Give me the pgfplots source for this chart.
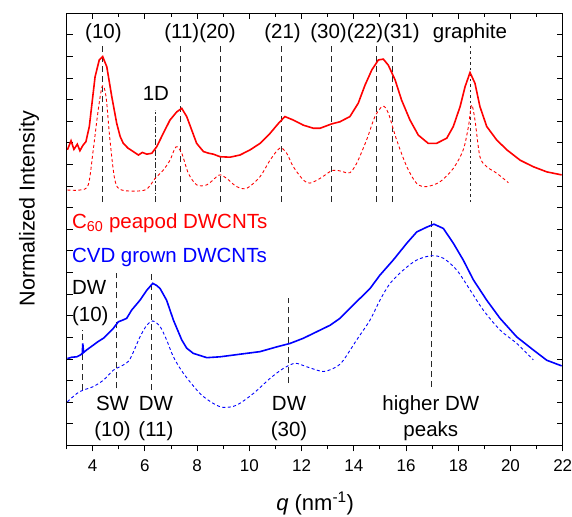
\documentclass[border=0pt]{standalone}
\usepackage{pgfplots}
\pgfplotsset{compat=1.18}
\usepackage{fontspec}
\setmainfont{Liberation Sans}
\definecolor{vline}{RGB}{40,40,40}
\tikzset{ann/.style={font=\fontsize{20.5}{24}\selectfont}}
\begin{document}
\begin{tikzpicture}
\useasboundingbox (-66.6pt,-70.7pt) rectangle (505.3pt,445.3pt);
\begin{axis}[
  at={(0pt,0pt)}, anchor=south west,
  scale only axis, width=496pt, height=432pt,
  xmin=3, xmax=22, ymin=0, ymax=100,
  xtick={4,6,...,22}, minor xtick={3,5,...,21},
  xtick pos=bottom, xtick align=outside,
  ytick={0,5,...,100}, yticklabels={}, ytick pos=both, ytick align=inside,
  major tick length=6pt, minor tick length=4pt,
  tick style={black, line width=0.9pt},
  axis line style={line width=1.2pt},
  ticklabel style={font=\fontsize{17}{20}\selectfont},
  x tick label style={yshift=-5pt},
  /pgf/number format/assume math mode=true,
  xlabel={\textit{q} (nm\textsuperscript{-1})},
  ylabel={Normalized Intensity},
  x label style={font=\fontsize{22}{26}\selectfont, inner sep=0pt, at={(axis description cs:0.501,-0.134)}, anchor=center},
  y label style={font=\fontsize{21.5}{25}\selectfont, at={(axis description cs:-0.0758,0.548)}, anchor=center},
  clip=false,
]
% vertical reference lines (top)
\addplot[vline, line width=1pt, dash pattern=on 6pt off 4pt] coordinates {(4.38,56.3) (4.38,92.7)};
\addplot[vline, line width=1pt, dash pattern=on 6pt off 4pt] coordinates {(7.38,56.3) (7.38,92.7)};
\addplot[vline, line width=1pt, dash pattern=on 6pt off 4pt] coordinates {(8.90,56.3) (8.90,92.7)};
\addplot[vline, line width=1pt, dash pattern=on 6pt off 4pt] coordinates {(11.24,56.3) (11.24,92.7)};
\addplot[vline, line width=1pt, dash pattern=on 6pt off 4pt] coordinates {(13.16,56.3) (13.16,92.7)};
\addplot[vline, line width=1pt, dash pattern=on 6pt off 4pt] coordinates {(14.88,56.3) (14.88,92.7)};
\addplot[vline, line width=1pt, dash pattern=on 6pt off 4pt] coordinates {(15.48,56.3) (15.48,92.7)};
\addplot[vline, line width=1pt, dash pattern=on 6pt off 2pt on 1.5pt off 2pt] coordinates {(6.42,56.3) (6.42,77.6)};
\addplot[vline, line width=1pt, dash pattern=on 2.5pt off 3pt] coordinates {(18.48,56.3) (18.48,92.7)};
% vertical reference lines (bottom)
\addplot[vline, line width=1pt, dash pattern=on 6pt off 4pt] coordinates {(3.62,12.8) (3.62,26.7)};
\addplot[vline, line width=1pt, dash pattern=on 6pt off 4pt] coordinates {(4.92,13.2) (4.92,40.0)};
\addplot[vline, line width=1pt, dash pattern=on 6pt off 4pt] coordinates {(6.27,12.8) (6.27,40.0)};
\addplot[vline, line width=1pt, dash pattern=on 6pt off 4pt] coordinates {(11.50,14.4) (11.50,34.0)};
\addplot[vline, line width=1pt, dash pattern=on 6pt off 4pt] coordinates {(16.98,13.6) (16.98,52.5)};

% red measured
\addplot[red, line width=1.6pt] coordinates {
(3.03,68.4)(3.17,70.5)(3.28,68.5)(3.41,69.7)(3.51,68.2)(3.62,69.4)(3.74,70.3)(3.87,73.8)(3.95,78.0)(4.09,85.3)(4.25,89.2)(4.38,90.0)(4.54,87.6)(4.73,80.7)(4.92,74.5)(5.05,71.5)(5.17,69.9)(5.35,68.8)(5.55,68.0)(5.75,67.2)(5.90,67.8)(6.07,67.4)(6.26,67.6)(6.45,69.1)(6.70,72.2)(6.96,75.3)(7.22,77.2)(7.41,78.0)(7.60,76.1)(7.79,73.0)(7.98,69.9)(8.24,68.0)(8.45,67.6)(8.62,67.4)(8.88,66.8)(9.26,66.7)(9.64,67.2)(10.03,68.4)(10.41,69.9)(10.79,72.2)(11.11,74.5)(11.36,76.1)(11.68,75.3)(12.07,74.1)(12.45,73.4)(12.71,73.4)(13.15,74.4)(13.47,74.9)(13.85,76.1)(14.17,79.2)(14.43,83.4)(14.69,86.9)(14.94,89.2)(15.13,89.4)(15.32,88.0)(15.58,84.6)(15.83,79.9)(16.15,75.3)(16.47,71.8)(16.85,69.9)(17.17,69.9)(17.56,71.1)(17.81,73.8)(18.07,78.4)(18.26,83.0)(18.45,86.3)(18.64,83.8)(18.83,78.4)(19.09,73.8)(19.47,70.7)(19.86,68.4)(20.37,66.0)(20.87,64.5)(21.39,63.3)(21.96,62.6)};
% red model
\addplot[red, line width=0.9pt, dash pattern=on 3pt off 2.5pt, smooth] coordinates {
(3.03,59.1)(3.51,59.1)(3.83,60.3)(4.02,68.4)(4.21,77.6)(4.37,83.2)(4.51,80.7)(4.66,70.7)(4.85,61.4)(5.11,59.1)(6.00,59.1)(6.39,61.8)(6.70,63.7)(6.96,66.0)(7.19,69.1)(7.41,67.6)(7.66,63.0)(7.98,60.3)(8.37,60.3)(8.75,62.2)(8.90,62.6)(9.13,61.8)(9.51,59.9)(9.90,59.5)(10.41,62.2)(10.79,66.0)(11.17,68.8)(11.43,67.6)(11.68,64.5)(12.07,61.4)(12.32,60.7)(12.71,61.8)(13.15,63.6)(13.34,63.7)(13.60,63.3)(13.85,63.1)(14.11,65.3)(14.49,70.7)(14.81,76.1)(15.11,78.5)(15.32,76.9)(15.64,70.7)(16.03,64.5)(16.41,60.6)(16.79,59.9)(17.30,61.0)(17.81,64.1)(18.19,68.4)(18.39,73.8)(18.51,78.8)(18.64,75.3)(18.83,66.8)(19.09,64.5)(19.47,63.0)(19.92,60.8)};
% blue measured
\addplot[blue, line width=1.6pt] coordinates {
(3.03,20.1)(3.20,20.4)(3.39,20.5)(3.55,21.0)(3.60,21.3)(3.62,23.6)(3.65,21.5)(3.77,22.1)(4.02,23.2)(4.20,24.0)(4.41,24.8)(4.60,25.9)(4.79,27.1)(4.98,28.6)(5.15,29.0)(5.30,29.4)(5.49,31.3)(5.81,33.6)(6.07,35.9)(6.30,37.5)(6.45,37.0)(6.58,36.3)(6.83,33.6)(7.09,29.0)(7.41,24.4)(7.60,22.5)(7.85,21.3)(8.37,20.3)(8.88,20.5)(9.64,21.1)(10.41,21.7)(11.05,22.8)(11.56,23.6)(12.07,24.8)(12.58,26.3)(13.09,27.8)(13.47,29.4)(13.98,32.5)(14.62,36.3)(15.00,39.4)(15.51,42.9)(16.03,46.8)(16.41,49.4)(16.79,50.5)(17.07,51.2)(17.43,50.2)(17.81,46.8)(18.19,42.9)(18.58,38.3)(19.09,33.6)(19.60,29.4)(20.24,25.1)(20.87,22.1)(21.39,19.7)(21.96,18.4)};
% blue model
\addplot[blue, line width=0.9pt, dash pattern=on 3pt off 2.5pt, smooth] coordinates {
(3.03,10.1)(3.39,12.0)(3.64,12.8)(4.02,13.6)(4.41,15.1)(4.79,17.4)(5.17,18.6)(5.43,20.0)(5.81,25.1)(6.07,27.8)(6.30,28.8)(6.58,27.5)(6.83,24.4)(7.09,20.5)(7.47,16.7)(8.11,12.0)(8.62,9.7)(9.00,8.8)(9.51,9.3)(10.15,12.0)(10.79,15.5)(11.30,17.8)(11.75,19.0)(12.19,18.2)(12.71,17.2)(12.95,17.2)(13.34,18.2)(13.60,19.7)(14.11,24.4)(14.62,29.0)(15.00,33.6)(15.39,37.5)(15.90,40.6)(16.41,42.9)(16.98,43.9)(17.43,43.3)(17.94,40.6)(18.45,36.0)(18.96,31.3)(19.60,26.7)(20.24,23.6)(20.87,19.8)};

% annotations
\node[ann, anchor=base] at (axis cs:4.41,94.2) {(10)};
\node[ann, anchor=base] at (axis cs:8.11,94.2) {(11)(20)};
\node[ann, anchor=base] at (axis cs:11.27,94.2) {(21)};
\node[ann, anchor=base] at (axis cs:14.43,94.2) {(30)(22)(31)};
\node[ann, anchor=base] at (axis cs:18.45,94.2) {graphite};
\node[ann, anchor=base] at (axis cs:6.42,79.9) {1D};
\node[ann, anchor=base west, inner sep=0pt, red] at (axis cs:3.2,50.2) {C\textsubscript{60} peapod DWCNTs};
\node[ann, anchor=base west, inner sep=0pt, blue] at (axis cs:3.2,42.3) {CVD grown DWCNTs};
\node[ann, anchor=base west, inner sep=0pt] at (axis cs:3.2,35.0) {DW};
\node[ann, anchor=base west, inner sep=0pt] at (axis cs:3.2,28.6) {(10)};
\node[ann, anchor=base] at (axis cs:4.76,8.0) {SW};
\node[ann, anchor=base] at (axis cs:4.76,2.0) {(10)};
\node[ann, anchor=base] at (axis cs:6.42,8.0) {DW};
\node[ann, anchor=base] at (axis cs:6.42,2.0) {(11)};
\node[ann, anchor=base] at (axis cs:11.52,8.0) {DW};
\node[ann, anchor=base] at (axis cs:11.52,2.0) {(30)};
\node[ann, anchor=base] at (axis cs:16.95,8.0) {higher DW};
\node[ann, anchor=base] at (axis cs:16.95,2.0) {peaks};
\end{axis}
\begin{axis}[
  at={(0pt,0pt)}, anchor=south west,
  scale only axis, width=496pt, height=432pt,
  xmin=3, xmax=22, ymin=0, ymax=100,
  xtick={4,6,...,22}, minor xtick={3,5,...,21},
  xtick pos=top, xtick align=inside, xticklabels={},
  ytick=\empty,
  major tick length=6pt, minor tick length=4pt,
  tick style={black, line width=0.9pt},
  axis line style={line width=1.2pt},
]
\end{axis}
\end{tikzpicture}
\end{document}
